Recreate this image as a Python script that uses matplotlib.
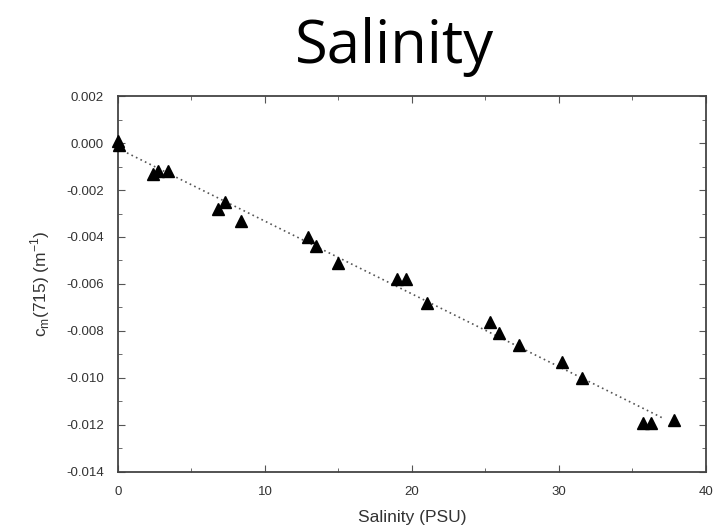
import numpy as np
import matplotlib
matplotlib.use("Agg")
import matplotlib.pyplot as plt
from matplotlib.ticker import MultipleLocator

# salinity (PSU) vs c_m(715) (m^-1)
salinity = [0.0, 0.1, 2.4, 2.7, 3.4, 6.8, 7.3, 8.4, 12.9, 13.5, 15.0,
            19.0, 19.6, 21.0, 25.3, 25.9, 27.3, 30.2, 31.6, 35.7, 36.3, 37.8]
cm715 = [0.0001, -0.0001, -0.0013, -0.0012, -0.0012, -0.0028, -0.0025, -0.0033,
         -0.0040, -0.0044, -0.0051, -0.0058, -0.0058, -0.0068, -0.0076, -0.0081,
         -0.0086, -0.0093, -0.0100, -0.0119, -0.0119, -0.0118]
fit_range = [0.0, 37.0]
xticks = [0, 10, 20, 30, 40]
yticks = [0.002, 0.000, -0.002, -0.004, -0.006, -0.008, -0.010, -0.012, -0.014]

plt.rcParams['font.family'] = ['Liberation Sans', 'DejaVu Sans']

fig = plt.figure(figsize=(7.13, 5.29), dpi=100)
ax = fig.add_axes([0.1655, 0.1078, 0.8245, 0.7107])

# fitted line (dotted)
p = np.polyfit(salinity, cm715, 1)
xf = np.array(fit_range)
ax.plot(xf, np.polyval(p, xf), ls=(0, (1, 2)), color='#555555', lw=1.2)

ax.plot(salinity, cm715, '^', color='black', ms=8, clip_on=False, zorder=3)

ax.set_xlim(0, 40)
ax.set_ylim(-0.014, 0.002)
ax.set_xticks(xticks)
ax.set_yticks(yticks)
ax.set_yticklabels(['%.3f' % v for v in yticks])
ax.xaxis.set_minor_locator(MultipleLocator(5))
ax.yaxis.set_minor_locator(MultipleLocator(0.001))
ax.tick_params(which='both', direction='in', top=True, right=True,
               colors='#555555', labelcolor='#333333', labelsize=9.5)
ax.tick_params(which='major', length=5, pad=10)
ax.tick_params(which='minor', length=3)
for s in ax.spines.values():
    s.set_color('#444444')
    s.set_linewidth(1.3)

ax.set_xlabel('Salinity (PSU)', fontsize=12.5, color='#333333', labelpad=9)
ax.set_ylabel(r'c$_\mathregular{m}$(715) (m$^\mathregular{-1}$)', fontsize=12.5,
              color='#333333', labelpad=10)

fig.text(0.553, 1 - 63 / 529, 'Salinity', fontsize=43, ha='center', va='baseline',
         family=['Open Sans', 'DejaVu Sans'], color='black')

fig.savefig('out.png', dpi=100)
